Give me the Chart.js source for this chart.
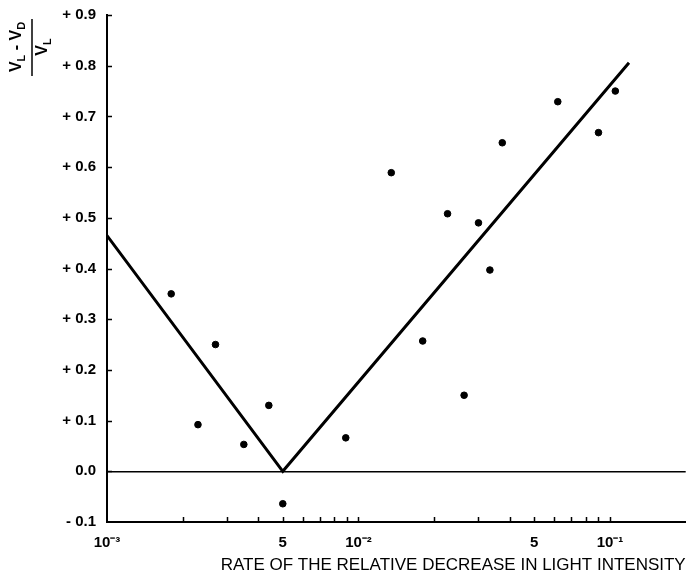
<!DOCTYPE html>
<html>
<head>
<meta charset="utf-8">
<script src="https://cdn.jsdelivr.net/npm/chart.js@4"></script>
<style>
  html, body { margin: 0; padding: 0; background: #fff; }
  #wrap { width: 690px; height: 582px; position: relative; }
</style>
</head>
<body>
<div id="wrap"><canvas id="chart"></canvas></div>
<script>
// measured points: rate of relative decrease vs (VL - VD) / VL
const rate = [0.0018, 0.0023, 0.0027, 0.0035, 0.0044, 0.005, 0.0089, 0.0135, 0.018, 0.0226,
              0.0263, 0.030, 0.0333, 0.0373, 0.062, 0.090, 0.105];
const ratio = [0.35, 0.092, 0.25, 0.053, 0.13, -0.064, 0.066, 0.589, 0.257, 0.508,
               0.15, 0.49, 0.397, 0.648, 0.729, 0.668, 0.75];

// fitted V-shaped line
const fitRate = [0.001, 0.005, 0.119];
const fitRatio = [0.465, 0.0, 0.806];

// x axis tick marks and their labels
const xTickValues = [0.002, 0.003, 0.004, 0.005, 0.006, 0.007, 0.008, 0.009, 0.01,
                     0.02, 0.03, 0.04, 0.05, 0.06, 0.07, 0.08, 0.09, 0.1];
const xLabelValues = [0.001, 0.005, 0.01, 0.05, 0.1];
const xLabelTexts = ['10\u207B\u00B3', '5', '10\u207B\u00B2', '5', '10\u207B\u00B9'];

const yMin = -0.1, yMax = 0.9, yStep = 0.1;

const fontFam = '"Liberation Sans", Arial, sans-serif';

// small inward tick marks on both axes
const tickMarks = {
  id: 'tickMarks',
  afterDraw(chart) {
    const ctx = chart.ctx;
    const x = chart.scales.x, y = chart.scales.y;
    const area = chart.chartArea;
    ctx.save();
    ctx.strokeStyle = '#000';
    ctx.lineWidth = 1.5;
    ctx.beginPath();
    xTickValues.forEach(v => {
      const px = Math.round(x.getPixelForValue(v)) + 0.5;
      ctx.moveTo(px, area.bottom);
      ctx.lineTo(px, area.bottom - 5);
    });
    y.ticks.forEach(t => {
      if (t.value <= yMin + 1e-9) return;
      const py = Math.round(y.getPixelForValue(t.value)) + 0.5;
      ctx.moveTo(area.left, py);
      ctx.lineTo(area.left + 5, py);
    });
    ctx.stroke();
    ctx.restore();
  }
};

// rotated fraction (VL - VD) / VL as y axis title
const fractionTitle = {
  id: 'fractionTitle',
  afterDraw(chart) {
    const ctx = chart.ctx;
    ctx.save();
    ctx.translate(32, 47);
    ctx.rotate(-Math.PI / 2);
    ctx.fillStyle = '#000';
    ctx.textAlign = 'left';
    ctx.textBaseline = 'alphabetic';
    const big = 'bold 16px ' + fontFam, small = 'bold 11px ' + fontFam;

    function drawParts(parts, baseY) {
      let w = 0;
      parts.forEach(p => { ctx.font = p[1] ? small : big; w += ctx.measureText(p[0]).width; });
      let cx = -w / 2;
      parts.forEach(p => {
        ctx.font = p[1] ? small : big;
        ctx.fillText(p[0], cx, baseY + (p[1] ? 4 : 0));
        cx += ctx.measureText(p[0]).width;
      });
    }
    drawParts([['V', false], ['L', true], [' - ', false], ['V', false], ['D', true]], -11);
    drawParts([['V', false], ['L', true]], 15);

    ctx.strokeStyle = '#000';
    ctx.lineWidth = 1.5;
    ctx.beginPath();
    ctx.moveTo(-29, 0);
    ctx.lineTo(28, 0);
    ctx.stroke();
    ctx.restore();
  }
};

new Chart(document.getElementById('chart'), {
  type: 'scatter',
  data: {
    datasets: [
      {
        label: 'measured',
        data: rate.map((r, i) => ({ x: r, y: ratio[i] })),
        backgroundColor: '#000',
        borderColor: '#000',
        pointRadius: 3.3,
        pointHoverRadius: 3.3
      },
      {
        label: 'fit',
        data: fitRate.map((r, i) => ({ x: r, y: fitRatio[i] })),
        showLine: true,
        borderColor: '#000',
        borderWidth: 3,
        pointRadius: 0,
        fill: false
      }
    ]
  },
  options: {
    responsive: true,
    maintainAspectRatio: false,
    animation: false,
    layout: { padding: { top: 15, right: 1, left: 0, bottom: 0 } },
    plugins: {
      legend: { display: false },
      tooltip: { enabled: false }
    },
    scales: {
      x: {
        type: 'logarithmic',
        min: 0.001,
        max: 0.2,
        afterBuildTicks: scale => {
          scale.ticks = xLabelValues.map(v => ({ value: v }));
        },
        afterFit: scale => { scale.height = 60; },
        grid: { display: false, drawTicks: false },
        border: { display: true, color: '#000', width: 2 },
        ticks: {
          autoSkip: false,
          maxRotation: 0,
          padding: 12,
          color: '#000',
          font: { family: fontFam, size: 15, weight: 'bold' },
          callback: (v) => {
            const i = xLabelValues.findIndex(t => Math.abs(t - v) / t < 1e-6);
            return i >= 0 ? xLabelTexts[i] : '';
          }
        },
        title: {
          display: true,
          text: 'RATE OF THE RELATIVE DECREASE IN LIGHT INTENSITY',
          align: 'end',
          color: '#000',
          font: { family: fontFam, size: 17 },
          padding: { top: 0, bottom: 6 }
        }
      },
      y: {
        min: yMin,
        max: yMax,
        afterFit: scale => {
          scale.width = 107;
          scale.paddingTop = 0;
          scale.paddingBottom = 0;
        },
        grid: {
          drawTicks: false,
          lineWidth: 1.5,
          color: c => (c.tick && Math.abs(c.tick.value) < 1e-9) ? '#000' : 'rgba(0,0,0,0)'
        },
        border: { display: true, color: '#000', width: 2 },
        ticks: {
          stepSize: yStep,
          padding: 11,
          color: '#000',
          font: { family: fontFam, size: 15, weight: 'bold' },
          callback: v => {
            const r = Math.round(v * 10) / 10;
            if (r > 0) return '+ ' + r.toFixed(1);
            if (r < 0) return '- ' + Math.abs(r).toFixed(1);
            return '0.0';
          }
        }
      }
    }
  },
  plugins: [tickMarks, fractionTitle]
});
</script>
</body>
</html>
